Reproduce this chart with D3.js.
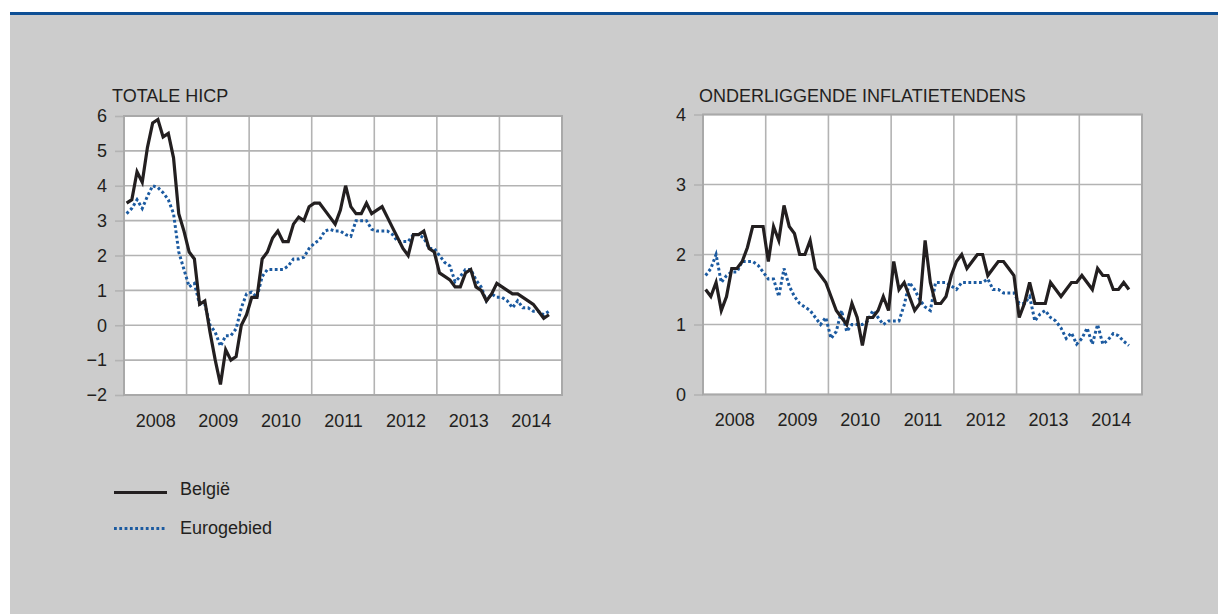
<!DOCTYPE html>
<html>
<head>
<meta charset="utf-8">
<script src="https://cdnjs.cloudflare.com/ajax/libs/d3/7.8.5/d3.min.js"></script>
<style>
    body { margin: 0; background: #fff; }
    text { font-family: "Liberation Sans", Arial, sans-serif; fill: #231f20; }
</style>
</head>
<body>
<div id="chart"></div>
<script>
// monthly values, jan 2008 - oct 2014
const years = ["2008", "2009", "2010", "2011", "2012", "2013", "2014"];

const hicpBelgium = [
    3.5, 3.6, 4.4, 4.1, 5.1, 5.8, 5.9, 5.4, 5.5, 4.8, 3.2, 2.7,
    2.1, 1.9, 0.6, 0.7, -0.2, -1.0, -1.7, -0.7, -1.0, -0.9, 0.0, 0.3,
    0.8, 0.8, 1.9, 2.1, 2.5, 2.7, 2.4, 2.4, 2.9, 3.1, 3.0, 3.4,
    3.5, 3.5, 3.3, 3.1, 2.9, 3.3, 4.0, 3.4, 3.2, 3.2, 3.5, 3.2,
    3.3, 3.4, 3.1, 2.8, 2.5, 2.2, 2.0, 2.6, 2.6, 2.7, 2.2, 2.1,
    1.5, 1.4, 1.3, 1.1, 1.1, 1.5, 1.6, 1.1, 1.0, 0.7, 0.9, 1.2,
    1.1, 1.0, 0.9, 0.9, 0.8, 0.7, 0.6, 0.4, 0.2, 0.3
];
const hicpEuro = [
    3.2, 3.35, 3.6, 3.35, 3.7, 4.0, 3.95, 3.8, 3.6, 3.2, 2.1, 1.6,
    1.1, 1.2, 0.6, 0.6, 0.0, -0.2, -0.6, -0.3, -0.3, -0.1, 0.5, 0.9,
    0.95, 0.8, 1.4, 1.6, 1.6, 1.6, 1.6, 1.7, 1.9, 1.9, 1.95, 2.2,
    2.35, 2.45, 2.7, 2.75, 2.7, 2.7, 2.6, 2.55, 3.0, 3.0, 3.0, 2.75,
    2.7, 2.7, 2.7, 2.6, 2.4, 2.4, 2.4, 2.6, 2.6, 2.5, 2.2, 2.2,
    2.0, 1.8, 1.7, 1.25, 1.4, 1.6, 1.6, 1.3, 1.1, 0.7, 0.9, 0.8,
    0.8, 0.7, 0.5, 0.7, 0.5, 0.5, 0.4, 0.4, 0.3, 0.4
];
const coreBelgium = [
    1.5, 1.4, 1.6, 1.2, 1.4, 1.8, 1.8, 1.9, 2.1, 2.4, 2.4, 2.4,
    1.9, 2.4, 2.2, 2.7, 2.4, 2.3, 2.0, 2.0, 2.2, 1.8, 1.7, 1.6,
    1.4, 1.2, 1.1, 1.0, 1.3, 1.1, 0.7, 1.1, 1.1, 1.2, 1.4, 1.2,
    1.9, 1.5, 1.6, 1.4, 1.2, 1.3, 2.2, 1.6, 1.3, 1.3, 1.4, 1.7,
    1.9, 2.0, 1.8, 1.9, 2.0, 2.0, 1.7, 1.8, 1.9, 1.9, 1.8, 1.7,
    1.1, 1.3, 1.6, 1.3, 1.3, 1.3, 1.6, 1.5, 1.4, 1.5, 1.6, 1.6,
    1.7, 1.6, 1.5, 1.8, 1.7, 1.7, 1.5, 1.5, 1.6, 1.5
];
const coreEuro = [
    1.7, 1.8, 2.0, 1.6, 1.7, 1.75, 1.75, 1.9, 1.9, 1.9, 1.85, 1.75,
    1.65, 1.65, 1.4, 1.8, 1.55, 1.4, 1.3, 1.25, 1.2, 1.1, 1.0, 1.1,
    0.8, 0.9, 1.2, 0.9, 1.0, 1.0, 1.0, 1.05, 1.2, 1.1, 1.0, 1.05,
    1.05, 1.05, 1.28, 1.6, 1.5, 1.35, 1.25, 1.2, 1.6, 1.6, 1.6, 1.55,
    1.5, 1.6, 1.6, 1.6, 1.6, 1.6, 1.65, 1.5, 1.5, 1.45, 1.45, 1.45,
    1.3, 1.3, 1.4, 1.05, 1.15, 1.2, 1.1, 1.05, 0.95, 0.8, 0.88, 0.72,
    0.8, 0.95, 0.72, 1.0, 0.72, 0.78, 0.87, 0.84, 0.76, 0.7
];

const hicpTicks = [-2, -1, 0, 1, 2, 3, 4, 5, 6];
const coreTicks = [0, 1, 2, 3, 4];

var svg = d3.select("#chart")
    .append("svg")
    .attr("width", 1218)
    .attr("height", 614);

// grey panel with the blue rule on top
svg.append("rect")
    .attr("x", 10).attr("y", 15)
    .attr("width", 1208).attr("height", 599)
    .style("fill", "#cccccc");
svg.append("rect")
    .attr("x", 10).attr("y", 12)
    .attr("width", 1208).attr("height", 3)
    .style("fill", "#0e4f95");

function drawChart(cfg) {
    let months = years.length * 12;
    let x = d3.scaleLinear().domain([0, months]).range([cfg.left, cfg.right]);
    let y = d3.scaleLinear().domain([cfg.ticks[0], cfg.ticks[cfg.ticks.length - 1]])
        .range([cfg.bottom, cfg.top]);

    let g = svg.append("g");

    g.append("rect")
        .attr("x", cfg.left).attr("y", cfg.top)
        .attr("width", cfg.right - cfg.left)
        .attr("height", cfg.bottom - cfg.top)
        .style("fill", "#fff");

    // horizontal grid + ticks
    let yAxis = g.append("g")
        .attr("transform", "translate(" + cfg.left + ",0)")
        .call(d3.axisLeft(y).tickValues(cfg.ticks).tickSize(9).tickPadding(8).tickFormat(d3.format("d")));
    yAxis.select(".domain").remove();
    yAxis.selectAll("line").style("stroke", "#b3b3b3").style("stroke-width", 1.6);
    yAxis.selectAll("text")
        .attr("font-size", null)
        .style("font-size", "18px")
        .style("font-family", "'Liberation Sans', Arial, sans-serif")
        .style("fill", "#231f20");
    yAxis.attr("font-family", null).attr("font-size", null);

    g.selectAll(".hgrid")
        .data(cfg.ticks)
        .enter().append("line")
        .attr("x1", cfg.left).attr("x2", cfg.right)
        .attr("y1", function (d) { return y(d); })
        .attr("y2", function (d) { return y(d); })
        .style("stroke", "#b3b3b3")
        .style("stroke-width", 1.6);

    // year separators
    g.selectAll(".vgrid")
        .data(d3.range(1, years.length))
        .enter().append("line")
        .attr("x1", function (d) { return x(d * 12); })
        .attr("x2", function (d) { return x(d * 12); })
        .attr("y1", cfg.top).attr("y2", cfg.bottom)
        .style("stroke", "#b3b3b3")
        .style("stroke-width", 1.6);

    g.append("rect")
        .attr("x", cfg.left).attr("y", cfg.top)
        .attr("width", cfg.right - cfg.left)
        .attr("height", cfg.bottom - cfg.top)
        .style("fill", "none")
        .style("stroke", "#a9a9a9")
        .style("stroke-width", 2);

    // year labels in the middle of each year
    let xAxis = g.append("g")
        .attr("transform", "translate(0," + cfg.bottom + ")")
        .call(d3.axisBottom(x)
            .tickValues(years.map(function (d, i) { return i * 12 + 6; }))
            .tickSize(0).tickPadding(19)
            .tickFormat(function (d) { return years[(d - 6) / 12]; }));
    xAxis.select(".domain").remove();
    xAxis.attr("font-family", null).attr("font-size", null);
    xAxis.selectAll("text")
        .style("font-size", "18px")
        .style("font-family", "'Liberation Sans', Arial, sans-serif")
        .style("fill", "#231f20");

    let line = d3.line()
        .x(function (d, i) { return x(i + 0.5); })
        .y(function (d) { return y(d); });

    g.append("path")
        .datum(cfg.euro)
        .attr("d", line)
        .style("fill", "none")
        .style("stroke", "#1b5aa0")
        .style("stroke-width", 3)
        .style("stroke-dasharray", "2.8,2.5");

    g.append("path")
        .datum(cfg.belgium)
        .attr("d", line)
        .style("fill", "none")
        .style("stroke", "#231f20")
        .style("stroke-width", 3.2)
        .style("stroke-linejoin", "miter");

    g.append("text")
        .attr("x", cfg.titleX).attr("y", 102)
        .style("font-size", "18px")
        .text(cfg.title);
}

drawChart({
    title: "TOTALE HICP", titleX: 112,
    left: 124, right: 562, top: 116, bottom: 395,
    ticks: hicpTicks, belgium: hicpBelgium, euro: hicpEuro
});

drawChart({
    title: "ONDERLIGGENDE INFLATIETENDENS", titleX: 699,
    left: 703, right: 1142, top: 114.5, bottom: 394.5,
    ticks: coreTicks, belgium: coreBelgium, euro: coreEuro
});

// legend
var legend = svg.append("g");
legend.append("line")
    .attr("x1", 114).attr("x2", 167).attr("y1", 492.5).attr("y2", 492.5)
    .style("stroke", "#231f20").style("stroke-width", 3.2);
legend.append("text").attr("x", 180).attr("y", 495).style("font-size", "18px").text("België");
legend.append("line")
    .attr("x1", 114).attr("x2", 167).attr("y1", 528.5).attr("y2", 528.5)
    .style("stroke", "#1b5aa0").style("stroke-width", 3)
    .style("stroke-dasharray", "2.8,2.5");
legend.append("text").attr("x", 180).attr("y", 534).style("font-size", "18px").text("Eurogebied");
</script>
</body>
</html>
